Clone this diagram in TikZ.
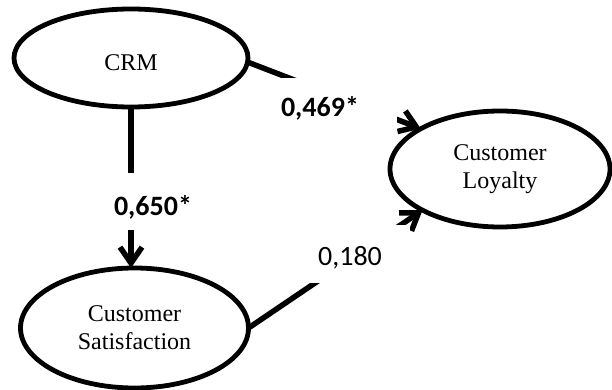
\documentclass[tikz,border=0pt]{standalone}
\usepackage{fontspec}
\setmainfont{Liberation Serif}
\newfontfamily\calib{Carlito}
\usetikzlibrary{shapes.geometric,arrows.meta}
\begin{document}
\begin{tikzpicture}[x=1pt,y=-1pt,
  latent/.style={ellipse, draw, line width=4.8pt, inner sep=0pt, outer sep=0pt, align=center, font=\fontsize{24}{28}\selectfont},
  pathline/.style={line width=5.5pt, -{Straight Barb[length=16pt,width=22pt]}},
  cover/.style={fill=white, inner sep=0pt, outer sep=0pt},
  coef/.style={font=\calib\fontsize{28}{32}\selectfont, inner sep=0pt, anchor=base}]
\useasboundingbox (0,0) rectangle (612,390);
\node[latent, minimum width=234, minimum height=98, text height=26pt, text depth=0pt] (crm) at (131,58) {CRM};
\node[latent, minimum width=220, minimum height=116] (loy) at (500,169) {Customer\\Loyalty};
\node[latent, minimum width=228, minimum height=120] (sat) at (134.5,328) {Customer\\Satisfaction};
\draw[pathline] (crm.-2.4) -- (loy.153);
\draw[pathline] (sat.0.5) -- (loy.208);
\draw[pathline] (crm.south) -- (crm.south |- sat.north);
\node[cover, minimum width=127, minimum height=52] (c469) at (333.5,104) {};
\node[cover, minimum width=100, minimum height=57] (c650) at (153,201.5) {};
\node[cover, minimum width=110, minimum height=58] (c180) at (355,254) {};
\node[coef] (l469) at (320,117) {\bfseries 0,469*};
\node[coef] (l650) at (153,215) {\bfseries 0,650*};
\node[coef] (l180) at (350,265) {0,180};
\end{tikzpicture}
\end{document}
